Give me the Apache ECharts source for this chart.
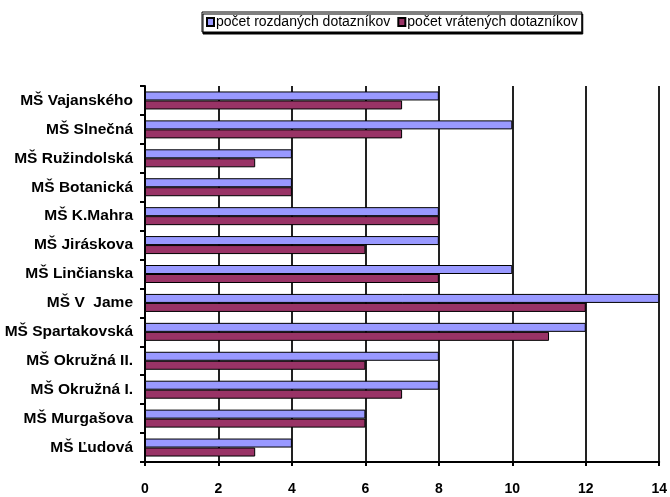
<!DOCTYPE html>
<html>
<head>
<meta charset="utf-8">
<script src="https://cdn.jsdelivr.net/npm/echarts@6/dist/echarts.min.js"></script>
<style>
  html, body { margin: 0; padding: 0; background: #fff; }
  #chart { width: 670px; height: 497px; }
</style>
</head>
<body>
<div id="chart"></div>
<script>
// Kindergartens, listed top to bottom
const schools = [
  'MŠ Vajanského', 'MŠ Slnečná', 'MŠ Ružindolská', 'MŠ Botanická',
  'MŠ K.Mahra', 'MŠ Jiráskova', 'MŠ Linčianska', 'MŠ V  Jame',
  'MŠ Spartakovská', 'MŠ Okružná II.', 'MŠ Okružná I.', 'MŠ Murgašova',
  'MŠ Ľudová'
];
const handedOut = [8, 10, 4, 4, 8, 8, 10, 14, 12, 8, 8, 6, 4];
const returned  = [7, 7, 3, 4, 8, 6, 8, 12, 11, 6, 7, 6, 3];
const seriesNames = ['počet rozdaných dotazníkov', 'počet vrátených dotazníkov'];
const xTicks = [0, 2, 4, 6, 8, 10, 12, 14];

const FONT = '"Liberation Sans", Arial, sans-serif';

const chart = echarts.init(document.getElementById('chart'), null, { renderer: 'canvas' });

chart.setOption({
  animation: false,
  backgroundColor: '#fff',
  legend: {
    top: 12,
    left: 202,
    itemWidth: 7,
    itemHeight: 8,
    itemGap: 7,
    padding: [3, 4, 3, 4],
    icon: 'rect',
    borderColor: '#000',
    borderWidth: 1,
    shadowColor: '#000',
    shadowOffsetX: 1,
    shadowOffsetY: 2,
    shadowBlur: 0,
    backgroundColor: '#fff',
    textStyle: { fontFamily: FONT, fontSize: 14, color: '#000', padding: [0, 0, 0, -3] },
    data: seriesNames
  },
  grid: { left: 145, right: 6, top: 86, bottom: 35, containLabel: false },
  xAxis: {
    type: 'value',
    min: xTicks[0],
    max: xTicks[xTicks.length - 1],
    interval: 2,
    axisLine: { show: true, lineStyle: { color: '#000', width: 2 } },
    axisTick: { show: true, length: 4, lineStyle: { color: '#000', width: 2 } },
    axisLabel: {
      margin: 20,
      fontFamily: FONT, fontWeight: 'bold', fontSize: 14, color: '#000',
      formatter: v => xTicks.includes(v) ? String(v) : ''
    },
    splitLine: { show: true, lineStyle: { color: '#222', width: 2 } }
  },
  yAxis: {
    type: 'category',
    inverse: true,
    data: schools,
    axisLine: { show: true, lineStyle: { color: '#000', width: 2 } },
    axisTick: { show: true, length: 5, lineStyle: { color: '#000', width: 2 } },
    axisLabel: {
      margin: 12,
      fontFamily: FONT, fontWeight: 'bold', fontSize: 15.5, color: '#000'
    }
  },
  series: [
    {
      name: seriesNames[0],
      type: 'bar',
      data: handedOut,
      barWidth: 9,
      barGap: '0%',
      itemStyle: { color: '#9999ff', borderColor: '#000', borderWidth: 1 }
    },
    {
      name: seriesNames[1],
      type: 'bar',
      data: returned,
      barWidth: 9,
      barGap: '0%',
      itemStyle: { color: '#993366', borderColor: '#000', borderWidth: 1 }
    }
  ]
});
</script>
</body>
</html>
